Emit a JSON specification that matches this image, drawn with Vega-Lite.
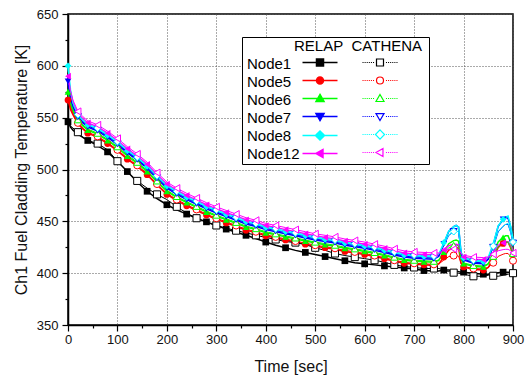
{
  "$schema": "https://vega.github.io/schema/vega-lite/v6.json",
  "width": 445,
  "height": 311,
  "autosize": {"type": "none"},
  "padding": {"left": 68, "top": 14, "right": 17, "bottom": 54},
  "background": "white",
  "config": {
    "font": "Liberation Sans",
    "view": {"stroke": "black", "strokeWidth": 1.5}
  },
  "data": {"values": [
    {"c":"RELAP","t":0,"Node1":546,"Node5":567,"Node6":575,"Node7":585,"Node8":600,"Node12":590},
    {"c":"RELAP","t":5,"Node1":541,"Node5":558,"Node6":563,"Node7":569,"Node8":577,"Node12":574},
    {"c":"RELAP","t":10,"Node1":538,"Node5":553,"Node6":556,"Node7":560,"Node8":564,"Node12":565},
    {"c":"RELAP","t":20,"Node1":534,"Node5":544,"Node6":547,"Node7":550,"Node8":552,"Node12":554},
    {"c":"RELAP","t":30,"Node1":531,"Node5":539,"Node6":542,"Node7":545,"Node8":547,"Node12":549},
    {"c":"RELAP","t":40,"Node1":528,"Node5":535,"Node6":538,"Node7":541,"Node8":543,"Node12":545},
    {"c":"RELAP","t":60,"Node1":523,"Node5":531,"Node6":534,"Node7":537,"Node8":539,"Node12":541},
    {"c":"RELAP","t":80,"Node1":517,"Node5":525,"Node6":528,"Node7":531,"Node8":533,"Node12":535},
    {"c":"RELAP","t":100,"Node1":508,"Node5":518,"Node6":521,"Node7":524,"Node8":526,"Node12":528},
    {"c":"RELAP","t":120,"Node1":498,"Node5":510,"Node6":513,"Node7":516,"Node8":518,"Node12":520},
    {"c":"RELAP","t":140,"Node1":488,"Node5":503,"Node6":506,"Node7":509,"Node8":511,"Node12":513},
    {"c":"RELAP","t":160,"Node1":479,"Node5":495,"Node6":498,"Node7":501,"Node8":503,"Node12":505},
    {"c":"RELAP","t":180,"Node1":472,"Node5":485,"Node6":488,"Node7":491,"Node8":493,"Node12":495},
    {"c":"RELAP","t":200,"Node1":466,"Node5":476,"Node6":479,"Node7":482,"Node8":484,"Node12":486},
    {"c":"RELAP","t":220,"Node1":461,"Node5":470,"Node6":473,"Node7":476,"Node8":478,"Node12":480},
    {"c":"RELAP","t":240,"Node1":457,"Node5":465,"Node6":468,"Node7":471,"Node8":473,"Node12":475},
    {"c":"RELAP","t":260,"Node1":453,"Node5":460.5,"Node6":463.5,"Node7":466.5,"Node8":468.5,"Node12":470.5},
    {"c":"RELAP","t":280,"Node1":449.5,"Node5":456,"Node6":459,"Node7":462,"Node8":464,"Node12":466},
    {"c":"RELAP","t":300,"Node1":446,"Node5":452,"Node6":455,"Node7":458,"Node8":460,"Node12":462},
    {"c":"RELAP","t":320,"Node1":442.5,"Node5":448.5,"Node6":451.5,"Node7":454.5,"Node8":456.5,"Node12":458.5},
    {"c":"RELAP","t":340,"Node1":439.5,"Node5":445,"Node6":448,"Node7":451,"Node8":453,"Node12":455},
    {"c":"RELAP","t":360,"Node1":436.5,"Node5":441.5,"Node6":444.5,"Node7":447.5,"Node8":449.5,"Node12":451.5},
    {"c":"RELAP","t":380,"Node1":433.5,"Node5":439,"Node6":442,"Node7":445,"Node8":447,"Node12":449},
    {"c":"RELAP","t":400,"Node1":430,"Node5":436,"Node6":439,"Node7":442,"Node8":444,"Node12":446},
    {"c":"RELAP","t":420,"Node1":427,"Node5":434,"Node6":437,"Node7":440,"Node8":442,"Node12":444},
    {"c":"RELAP","t":440,"Node1":424.5,"Node5":432,"Node6":435,"Node7":438,"Node8":440,"Node12":442},
    {"c":"RELAP","t":460,"Node1":422,"Node5":430,"Node6":433,"Node7":436,"Node8":438,"Node12":440},
    {"c":"RELAP","t":480,"Node1":420,"Node5":428,"Node6":431,"Node7":434,"Node8":436,"Node12":438},
    {"c":"RELAP","t":500,"Node1":418,"Node5":426,"Node6":429,"Node7":432,"Node8":434,"Node12":436},
    {"c":"RELAP","t":520,"Node1":416,"Node5":424.5,"Node6":427.5,"Node7":430.5,"Node8":432.5,"Node12":434.5},
    {"c":"RELAP","t":540,"Node1":414,"Node5":423,"Node6":426,"Node7":429,"Node8":431,"Node12":433},
    {"c":"RELAP","t":560,"Node1":412,"Node5":421,"Node6":424,"Node7":427,"Node8":429,"Node12":431},
    {"c":"RELAP","t":580,"Node1":410,"Node5":419.5,"Node6":422.5,"Node7":425.5,"Node8":427.5,"Node12":429.5},
    {"c":"RELAP","t":600,"Node1":409,"Node5":418,"Node6":421,"Node7":424,"Node8":426,"Node12":428},
    {"c":"RELAP","t":620,"Node1":408,"Node5":416,"Node6":419,"Node7":422,"Node8":424,"Node12":426},
    {"c":"RELAP","t":640,"Node1":407,"Node5":414,"Node6":417,"Node7":420,"Node8":422,"Node12":424},
    {"c":"RELAP","t":660,"Node1":406,"Node5":411.5,"Node6":414.5,"Node7":417.5,"Node8":419.5,"Node12":421.5},
    {"c":"RELAP","t":680,"Node1":405,"Node5":409.5,"Node6":412.5,"Node7":415.5,"Node8":417.5,"Node12":419.5},
    {"c":"RELAP","t":700,"Node1":404,"Node5":408.5,"Node6":411.5,"Node7":414.5,"Node8":416.5,"Node12":418.5},
    {"c":"RELAP","t":720,"Node1":402.5,"Node5":408,"Node6":411,"Node7":414,"Node8":416,"Node12":418},
    {"c":"RELAP","t":740,"Node1":402,"Node5":407.5,"Node6":410.5,"Node7":413.5,"Node8":415.5,"Node12":417.5},
    {"c":"RELAP","t":750,"Node1":402,"Node5":409,"Node6":412.3,"Node7":416.4,"Node8":418.2,"Node12":418.2},
    {"c":"RELAP","t":760,"Node1":403,"Node5":415.6,"Node6":420.4,"Node7":428.3,"Node8":429.4,"Node12":422.4},
    {"c":"RELAP","t":770,"Node1":403,"Node5":422.2,"Node6":428.4,"Node7":440.2,"Node8":440.6,"Node12":426.6},
    {"c":"RELAP","t":780,"Node1":402,"Node5":424.5,"Node6":431.4,"Node7":444.8,"Node8":444.9,"Node12":427.9},
    {"c":"RELAP","t":785,"Node1":402,"Node5":425,"Node6":432,"Node7":446,"Node8":446,"Node12":428},
    {"c":"RELAP","t":790,"Node1":401.5,"Node5":424,"Node6":430.9,"Node7":444.3,"Node8":444.4,"Node12":427.4},
    {"c":"RELAP","t":795,"Node1":401,"Node5":409.8,"Node6":413.6,"Node7":418.8,"Node8":420.4,"Node12":418.4},
    {"c":"RELAP","t":800,"Node1":401,"Node5":406,"Node6":409.2,"Node7":412.7,"Node8":414.6,"Node12":415.6},
    {"c":"RELAP","t":820,"Node1":400,"Node5":403.5,"Node6":406.5,"Node7":409.5,"Node8":411.5,"Node12":413.5},
    {"c":"RELAP","t":840,"Node1":399,"Node5":403,"Node6":406,"Node7":409,"Node8":411,"Node12":413},
    {"c":"RELAP","t":850,"Node1":399,"Node5":405.6,"Node6":408.9,"Node7":413.4,"Node8":415.2,"Node12":414.6},
    {"c":"RELAP","t":860,"Node1":400,"Node5":413.9,"Node6":418.1,"Node7":427.1,"Node8":428.3,"Node12":419.9},
    {"c":"RELAP","t":870,"Node1":400.5,"Node5":424.8,"Node6":430.2,"Node7":445.2,"Node8":445.6,"Node12":426.8},
    {"c":"RELAP","t":880,"Node1":401,"Node5":428.7,"Node6":434.6,"Node7":451.8,"Node8":451.9,"Node12":429.2},
    {"c":"RELAP","t":885,"Node1":401,"Node5":430,"Node6":436,"Node7":454,"Node8":454,"Node12":430},
    {"c":"RELAP","t":890,"Node1":401,"Node5":430,"Node6":436,"Node7":453,"Node8":455,"Node12":430},
    {"c":"RELAP","t":895,"Node1":400.5,"Node5":424.8,"Node6":430.2,"Node7":445.2,"Node8":445.6,"Node12":426.8},
    {"c":"RELAP","t":900,"Node1":400,"Node5":417,"Node6":421.5,"Node7":432,"Node8":433,"Node12":422},
    {"c":"CATHENA","t":0,"Node1":545,"Node5":570,"Node6":577,"Node7":582,"Node8":597,"Node12":592},
    {"c":"CATHENA","t":5,"Node1":542,"Node5":560,"Node6":565,"Node7":568,"Node8":576,"Node12":576},
    {"c":"CATHENA","t":10,"Node1":540,"Node5":554,"Node6":558,"Node7":561,"Node8":564,"Node12":567},
    {"c":"CATHENA","t":20,"Node1":536,"Node5":545,"Node6":548,"Node7":551,"Node8":553,"Node12":556},
    {"c":"CATHENA","t":30,"Node1":531,"Node5":540,"Node6":543,"Node7":546,"Node8":548,"Node12":551},
    {"c":"CATHENA","t":40,"Node1":528,"Node5":536,"Node6":539,"Node7":542,"Node8":544,"Node12":547},
    {"c":"CATHENA","t":60,"Node1":525,"Node5":532,"Node6":535,"Node7":538,"Node8":540,"Node12":543},
    {"c":"CATHENA","t":80,"Node1":519,"Node5":526,"Node6":529,"Node7":532,"Node8":534,"Node12":537},
    {"c":"CATHENA","t":100,"Node1":508,"Node5":519,"Node6":522,"Node7":525,"Node8":527,"Node12":530},
    {"c":"CATHENA","t":120,"Node1":498,"Node5":511,"Node6":514,"Node7":517,"Node8":519,"Node12":522},
    {"c":"CATHENA","t":140,"Node1":489,"Node5":504,"Node6":507,"Node7":510,"Node8":512,"Node12":515},
    {"c":"CATHENA","t":160,"Node1":482,"Node5":496,"Node6":499,"Node7":502,"Node8":504,"Node12":507},
    {"c":"CATHENA","t":180,"Node1":476,"Node5":486,"Node6":489,"Node7":492,"Node8":494,"Node12":497},
    {"c":"CATHENA","t":200,"Node1":471,"Node5":477,"Node6":480,"Node7":483,"Node8":485,"Node12":488},
    {"c":"CATHENA","t":220,"Node1":464,"Node5":471,"Node6":474,"Node7":477,"Node8":479,"Node12":482},
    {"c":"CATHENA","t":240,"Node1":458,"Node5":466,"Node6":469,"Node7":472,"Node8":474,"Node12":477},
    {"c":"CATHENA","t":260,"Node1":453,"Node5":461.5,"Node6":464.5,"Node7":467.5,"Node8":469.5,"Node12":472.5},
    {"c":"CATHENA","t":280,"Node1":449,"Node5":457,"Node6":460,"Node7":463,"Node8":465,"Node12":468},
    {"c":"CATHENA","t":300,"Node1":446,"Node5":453,"Node6":456,"Node7":459,"Node8":461,"Node12":464},
    {"c":"CATHENA","t":320,"Node1":443.5,"Node5":449.5,"Node6":452.5,"Node7":455.5,"Node8":457.5,"Node12":460.5},
    {"c":"CATHENA","t":340,"Node1":441,"Node5":446,"Node6":449,"Node7":452,"Node8":454,"Node12":457},
    {"c":"CATHENA","t":360,"Node1":439,"Node5":442.5,"Node6":445.5,"Node7":448.5,"Node8":450.5,"Node12":453.5},
    {"c":"CATHENA","t":380,"Node1":436.5,"Node5":440,"Node6":443,"Node7":446,"Node8":448,"Node12":451},
    {"c":"CATHENA","t":400,"Node1":434.5,"Node5":437,"Node6":440,"Node7":443,"Node8":445,"Node12":448},
    {"c":"CATHENA","t":420,"Node1":432.5,"Node5":435,"Node6":438,"Node7":441,"Node8":443,"Node12":446},
    {"c":"CATHENA","t":440,"Node1":430.5,"Node5":433,"Node6":436,"Node7":439,"Node8":441,"Node12":444},
    {"c":"CATHENA","t":460,"Node1":429.5,"Node5":431,"Node6":434,"Node7":437,"Node8":439,"Node12":442},
    {"c":"CATHENA","t":480,"Node1":427.5,"Node5":429,"Node6":432,"Node7":435,"Node8":437,"Node12":440},
    {"c":"CATHENA","t":500,"Node1":424.5,"Node5":427,"Node6":430,"Node7":433,"Node8":435,"Node12":438},
    {"c":"CATHENA","t":520,"Node1":422,"Node5":425.5,"Node6":428.5,"Node7":431.5,"Node8":433.5,"Node12":436.5},
    {"c":"CATHENA","t":540,"Node1":419,"Node5":424,"Node6":427,"Node7":430,"Node8":432,"Node12":435},
    {"c":"CATHENA","t":560,"Node1":417,"Node5":422,"Node6":425,"Node7":428,"Node8":430,"Node12":433},
    {"c":"CATHENA","t":580,"Node1":415.5,"Node5":420.5,"Node6":423.5,"Node7":426.5,"Node8":428.5,"Node12":431.5},
    {"c":"CATHENA","t":600,"Node1":414,"Node5":419,"Node6":422,"Node7":425,"Node8":427,"Node12":430},
    {"c":"CATHENA","t":620,"Node1":412.5,"Node5":417,"Node6":420,"Node7":423,"Node8":425,"Node12":428},
    {"c":"CATHENA","t":640,"Node1":410.5,"Node5":415,"Node6":418,"Node7":421,"Node8":423,"Node12":426},
    {"c":"CATHENA","t":660,"Node1":408,"Node5":412.5,"Node6":415.5,"Node7":418.5,"Node8":420.5,"Node12":423.5},
    {"c":"CATHENA","t":680,"Node1":406.5,"Node5":410.5,"Node6":413.5,"Node7":416.5,"Node8":418.5,"Node12":421.5},
    {"c":"CATHENA","t":700,"Node1":405.5,"Node5":409.5,"Node6":412.5,"Node7":415.5,"Node8":417.5,"Node12":420.5},
    {"c":"CATHENA","t":720,"Node1":404.5,"Node5":409,"Node6":412,"Node7":415,"Node8":417,"Node12":420},
    {"c":"CATHENA","t":740,"Node1":404.5,"Node5":408.5,"Node6":411.5,"Node7":414.5,"Node8":416.5,"Node12":419.5},
    {"c":"CATHENA","t":750,"Node1":404.5,"Node5":409,"Node6":412.7,"Node7":416.8,"Node8":418.6,"Node12":419.5},
    {"c":"CATHENA","t":760,"Node1":403,"Node5":412.5,"Node6":418.7,"Node7":426.6,"Node8":427.7,"Node12":421.3},
    {"c":"CATHENA","t":770,"Node1":401.5,"Node5":416,"Node6":424.6,"Node7":436.4,"Node8":436.8,"Node12":423},
    {"c":"CATHENA","t":780,"Node1":400.5,"Node5":417,"Node6":426.7,"Node7":440.1,"Node8":440.2,"Node12":423.3},
    {"c":"CATHENA","t":785,"Node1":400,"Node5":417,"Node6":427,"Node7":441,"Node8":441,"Node12":423},
    {"c":"CATHENA","t":790,"Node1":400,"Node5":416.5,"Node6":426.2,"Node7":439.6,"Node8":439.7,"Node12":422.8},
    {"c":"CATHENA","t":795,"Node1":399.5,"Node5":409,"Node6":413.4,"Node7":418.6,"Node8":420.2,"Node12":419},
    {"c":"CATHENA","t":800,"Node1":399,"Node5":406.5,"Node6":409.9,"Node7":413.4,"Node8":415.3,"Node12":417.3},
    {"c":"CATHENA","t":820,"Node1":397,"Node5":404.5,"Node6":407.5,"Node7":410.5,"Node8":412.5,"Node12":415.5},
    {"c":"CATHENA","t":840,"Node1":397,"Node5":404,"Node6":407,"Node7":410,"Node8":412,"Node12":415},
    {"c":"CATHENA","t":850,"Node1":398,"Node5":405.4,"Node6":409.2,"Node7":413.6,"Node8":415.4,"Node12":415.7},
    {"c":"CATHENA","t":860,"Node1":397.5,"Node5":410.1,"Node6":416.3,"Node7":424.9,"Node8":426.1,"Node12":418.3},
    {"c":"CATHENA","t":870,"Node1":397,"Node5":416.2,"Node6":425.6,"Node7":439.8,"Node8":440.2,"Node12":421.6},
    {"c":"CATHENA","t":880,"Node1":398,"Node5":418.3,"Node6":428.9,"Node7":445.2,"Node8":445.3,"Node12":422.7},
    {"c":"CATHENA","t":885,"Node1":398.5,"Node5":419,"Node6":430,"Node7":447,"Node8":447,"Node12":423},
    {"c":"CATHENA","t":890,"Node1":399,"Node5":419,"Node6":430,"Node7":447,"Node8":448,"Node12":423},
    {"c":"CATHENA","t":895,"Node1":399.5,"Node5":416.2,"Node6":425.6,"Node7":439.8,"Node8":440.2,"Node12":421.6},
    {"c":"CATHENA","t":900,"Node1":400,"Node5":412,"Node6":419,"Node7":429,"Node8":430,"Node12":419.5}
  ]},
  "transform": [
    {"fold": ["Node1", "Node5", "Node6", "Node7", "Node8", "Node12"], "as": ["node", "T"]}
  ],
  "encoding": {
    "x": {
      "field": "t", "type": "quantitative",
      "scale": {"domain": [0, 900], "nice": false, "zero": false},
      "axis": {
        "title": "Time [sec]",
        "values": [0,50,100,150,200,250,300,350,400,450,500,550,600,650,700,750,800,850,900],
        "labelExpr": "datum.value % 100 == 0 ? datum.label : ''",
        "labelFlush": false, "labelOverlap": false,
        "tickSize": {"condition": {"test": "datum.value % 100 == 0", "value": 6}, "value": 3},
        "gridOpacity": {"condition": {"test": "datum.value % 100 == 0", "value": 1}, "value": 0},
        "grid": true, "gridDash": [1, 2], "gridColor": "#555555", "gridWidth": 1,
        "domainColor": "black", "domainWidth": 1.5, "tickColor": "black", "tickWidth": 1.2,
        "labelFont": "Liberation Sans", "labelFontSize": 13, "labelColor": "#111111", "labelPadding": 2,
        "titleFont": "Liberation Sans", "titleFontSize": 16, "titleFontWeight": "normal", "titleColor": "#111111", "titlePadding": 12
      }
    },
    "y": {
      "field": "T", "type": "quantitative",
      "scale": {"domain": [350, 650], "nice": false, "zero": false},
      "axis": {
        "title": "Ch1 Fuel Cladding Temperature [K]",
        "values": [350,375,400,425,450,475,500,525,550,575,600,625,650],
        "labelExpr": "datum.value % 50 == 0 ? datum.label : ''",
        "labelOverlap": false, "labelFlush": false,
        "tickSize": {"condition": {"test": "datum.value % 50 == 0", "value": 6}, "value": 3},
        "gridOpacity": {"condition": {"test": "datum.value % 50 == 0", "value": 1}, "value": 0},
        "grid": true, "gridDash": [1, 2], "gridColor": "#555555", "gridWidth": 1,
        "domainColor": "black", "domainWidth": 1.5, "tickColor": "black", "tickWidth": 1.2,
        "labelFont": "Liberation Sans", "labelFontSize": 13, "labelColor": "#111111", "labelPadding": 4,
        "titleFont": "Liberation Sans", "titleFontSize": 16, "titleFontWeight": "normal", "titleColor": "#111111", "titlePadding": 7
      }
    }
  },
  "layer": [
    {
      "transform": [{"filter": "datum.c == 'RELAP'"}],
      "mark": {"type": "line", "strokeWidth": 1.5},
      "encoding": {
        "color": {"field": "node", "type": "nominal", "legend": null,
          "scale": {"domain": ["Node1","Node5","Node6","Node7","Node8","Node12"], "range": ["#000000","#ff0000","#00ff00","#0000ff","#00ffff","#ff00ff"]}}
      }
    },
    {
      "transform": [{"filter": "datum.c == 'CATHENA'"}],
      "mark": {"type": "line", "strokeWidth": 1},
      "encoding": {
        "color": {"field": "node", "type": "nominal", "legend": null,
          "scale": {"domain": ["Node1","Node5","Node6","Node7","Node8","Node12"], "range": ["#000000","#ff0000","#00ff00","#0000ff","#00ffff","#ff00ff"]}}
      }
    },
    {
      "transform": [{"filter": "datum.c == 'RELAP' && datum.t % 40 == 0"}],
      "mark": {"type": "point", "filled": true, "size": 45, "opacity": 1},
      "encoding": {
        "color": {"field": "node", "type": "nominal", "legend": null,
          "scale": {"domain": ["Node1","Node5","Node6","Node7","Node8","Node12"], "range": ["#000000","#ff0000","#00ff00","#0000ff","#00ffff","#ff00ff"]}},
        "shape": {"field": "node", "type": "nominal", "legend": null,
          "scale": {"domain": ["Node1","Node5","Node6","Node7","Node8","Node12"], "range": ["square","circle","triangle-up","triangle-down","diamond","triangle-left"]}}
      }
    },
    {
      "transform": [{"filter": "datum.c == 'CATHENA' && datum.t % 40 == 20"}],
      "mark": {"type": "point", "filled": false, "fill": "white", "fillOpacity": 1, "size": 50, "strokeWidth": 1, "opacity": 1},
      "encoding": {
        "stroke": {"field": "node", "type": "nominal", "legend": null,
          "scale": {"domain": ["Node1","Node5","Node6","Node7","Node8","Node12"], "range": ["#000000","#ff0000","#00ff00","#0000ff","#00ffff","#ff00ff"]}},
        "shape": {"field": "node", "type": "nominal", "legend": null,
          "scale": {"domain": ["Node1","Node5","Node6","Node7","Node8","Node12"], "range": ["square","circle","triangle-up","triangle-down","diamond","triangle-left"]}}
      }
    },
    {
      "transform": [{"filter": "datum.c == 'RELAP' && datum.t == 0"}],
      "mark": {"type": "point", "opacity": 0},
      "encoding": {
        "color": {"field": "node", "type": "nominal",
          "scale": {"domain": ["Node1","Node5","Node6","Node7","Node8","Node12"], "range": ["#000000","#ff0000","#00ff00","#0000ff","#00ffff","#ff00ff"]},
          "legend": {
            "title": "\u200b\u00a0\u00a0\u00a0\u00a0\u00a0\u00a0\u00a0\u00a0\u00a0\u00a0\u00a0\u00a0RELAP\u00a0\u00a0CATHENA\u00a0\u200b",
            "orient": "none", "legendX": 174, "legendY": 23, "padding": 2,
            "fillColor": "white", "strokeColor": "black",
            "titleFont": "Liberation Sans", "titleFontSize": 15, "titleFontWeight": "normal", "titleColor": "black", "titlePadding": 2, "titleLimit": 400,
            "labelFont": "Liberation Sans", "labelFontSize": 15, "labelColor": "black", "labelOffset": -12,
            "symbolOpacity": 0, "symbolSize": 1, "symbolStrokeWidth": 0, "rowPadding": 2
          }
        }
      }
    },
    {
      "transform": [{"filter": "datum.c == 'RELAP' && datum.t == 0"}],
      "mark": {"type": "point", "opacity": 0, "filled": true},
      "encoding": {
        "fill": {"field": "node", "type": "nominal",
          "scale": {"domain": ["Node1","Node5","Node6","Node7","Node8","Node12"], "range": ["#000000","#ff0000","#00ff00","#0000ff","#00ffff","#ff00ff"]},
          "legend": {"title": null, "orient": "none", "legendX": 244.5, "legendY": 41, "padding": 0,
            "labelFontSize": 15, "labelOpacity": 0, "symbolSize": 49, "symbolStrokeWidth": 1.5, "symbolOpacity": 1, "rowPadding": 2}},
        "stroke": {"field": "node", "type": "nominal",
          "scale": {"domain": ["Node1","Node5","Node6","Node7","Node8","Node12"], "range": ["#000000","#ff0000","#00ff00","#0000ff","#00ffff","#ff00ff"]},
          "legend": {"title": null, "orient": "none", "legendX": 244.5, "legendY": 41, "padding": 0,
            "labelFontSize": 15, "labelOpacity": 0, "symbolSize": 49, "symbolStrokeWidth": 1.5, "symbolOpacity": 1, "rowPadding": 2}},
        "shape": {"field": "node", "type": "nominal",
          "scale": {"domain": ["Node1","Node5","Node6","Node7","Node8","Node12"], "range": [
            "M-5,0H5M-1,-1H1V1H-1Z",
            "M-5,0H5M-1,0A1,1,0,1,0,1,0A1,1,0,1,0,-1,0Z",
            "M-5,0H5M0,-1.15L1.15,0.85H-1.15Z",
            "M-5,0H5M0,1.15L1.15,-0.85H-1.15Z",
            "M-5,0H5M0,-1.3L1.3,0L0,1.3L-1.3,0Z",
            "M-5,0H5M-1.15,0L0.85,-1.15V1.15Z"]},
          "legend": {"title": null, "orient": "none", "legendX": 244.5, "legendY": 41, "padding": 0,
            "labelFontSize": 15, "labelOpacity": 0, "symbolSize": 49, "symbolStrokeWidth": 1.5, "symbolOpacity": 1, "rowPadding": 2}}
      }
    },
    {
      "transform": [{"filter": "datum.c == 'CATHENA' && datum.t == 0"}],
      "mark": {"type": "point", "opacity": 0, "filled": false, "fill": "white"},
      "encoding": {
        "stroke": {"field": "node", "type": "nominal",
          "scale": {"domain": ["Node1","Node5","Node6","Node7","Node8","Node12"], "range": ["#000000","#ff0000","#00ff00","#0000ff","#00ffff","#ff00ff"]},
          "legend": {"title": null, "orient": "none", "legendX": 304.5, "legendY": 41, "padding": 0,
            "labelFontSize": 15, "labelOpacity": 0, "symbolSize": 49, "symbolStrokeWidth": 1.2, "symbolOpacity": 1, "symbolFillColor": "white", "rowPadding": 2}},
        "shape": {"field": "node", "type": "nominal",
          "scale": {"domain": ["Node1","Node5","Node6","Node7","Node8","Node12"], "range": [
            "M-5,0H-4.7M-4.4,0H-4.1M-3.8,0H-3.5M-3.2,0H-2.9M-2.6,0H-2.3M-2,0H-1.7M1.7,0H2M2.3,0H2.6M2.9,0H3.2M3.5,0H3.8M4.1,0H4.4M4.7,0H5M-1,-1H1V1H-1Z",
            "M-5,0H-4.7M-4.4,0H-4.1M-3.8,0H-3.5M-3.2,0H-2.9M-2.6,0H-2.3M-2,0H-1.7M1.7,0H2M2.3,0H2.6M2.9,0H3.2M3.5,0H3.8M4.1,0H4.4M4.7,0H5M-1,0A1,1,0,1,0,1,0A1,1,0,1,0,-1,0Z",
            "M-5,0H-4.7M-4.4,0H-4.1M-3.8,0H-3.5M-3.2,0H-2.9M-2.6,0H-2.3M-2,0H-1.7M1.7,0H2M2.3,0H2.6M2.9,0H3.2M3.5,0H3.8M4.1,0H4.4M4.7,0H5M0,-1.15L1.15,0.85H-1.15Z",
            "M-5,0H-4.7M-4.4,0H-4.1M-3.8,0H-3.5M-3.2,0H-2.9M-2.6,0H-2.3M-2,0H-1.7M1.7,0H2M2.3,0H2.6M2.9,0H3.2M3.5,0H3.8M4.1,0H4.4M4.7,0H5M0,1.15L1.15,-0.85H-1.15Z",
            "M-5,0H-4.7M-4.4,0H-4.1M-3.8,0H-3.5M-3.2,0H-2.9M-2.6,0H-2.3M-2,0H-1.7M1.7,0H2M2.3,0H2.6M2.9,0H3.2M3.5,0H3.8M4.1,0H4.4M4.7,0H5M0,-1.3L1.3,0L0,1.3L-1.3,0Z",
            "M-5,0H-4.7M-4.4,0H-4.1M-3.8,0H-3.5M-3.2,0H-2.9M-2.6,0H-2.3M-2,0H-1.7M1.7,0H2M2.3,0H2.6M2.9,0H3.2M3.5,0H3.8M4.1,0H4.4M4.7,0H5M-1.15,0L0.85,-1.15V1.15Z"]},
          "legend": {"title": null, "orient": "none", "legendX": 304.5, "legendY": 41, "padding": 0,
            "labelFontSize": 15, "labelOpacity": 0, "symbolSize": 49, "symbolStrokeWidth": 1.2, "symbolOpacity": 1, "symbolFillColor": "white", "rowPadding": 2}}
      }
    }
  ],
  "resolve": {
    "scale": {"color": "independent", "fill": "independent", "stroke": "independent", "shape": "independent"},
    "legend": {"color": "independent", "fill": "independent", "stroke": "independent", "shape": "independent"}
  }
}
